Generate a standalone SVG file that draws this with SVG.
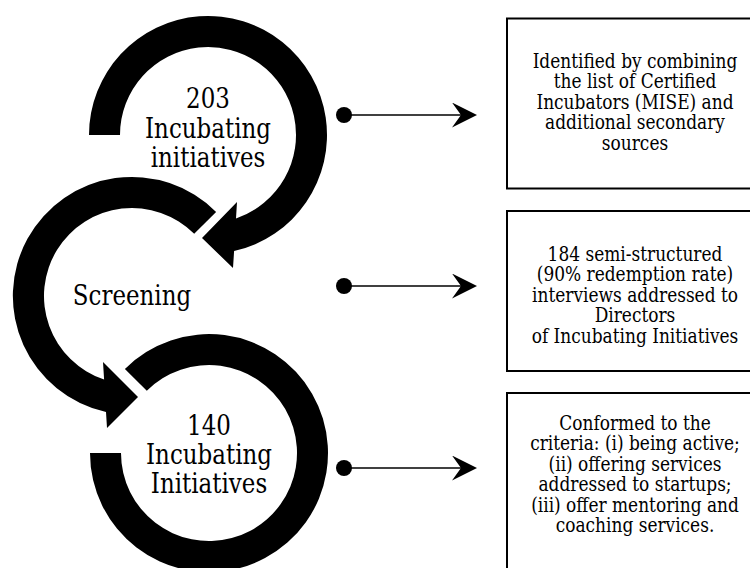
<svg xmlns="http://www.w3.org/2000/svg" width="750" height="568" viewBox="0 0 750 568">
  <defs>
    <marker id="head" viewBox="0 0 25 25" refX="18" refY="12.5" markerWidth="25" markerHeight="25" orient="auto" markerUnits="userSpaceOnUse">
      <path d="M0,0 L25,12.5 L0,25 L9,12.5 Z" fill="#000"/>
    </marker>
    <marker id="dot" viewBox="0 0 16 16" refX="8" refY="8" markerWidth="16" markerHeight="16" markerUnits="userSpaceOnUse">
      <circle cx="8" cy="8" r="8" fill="#000"/>
    </marker>
  </defs>
  <style>
    .ring { fill: #000; stroke: none; }
    .big { font-family: 'DejaVu Serif', serif; font-size: 28px; fill: #000; text-anchor: middle; }
    .box { fill: #fff; stroke: #000; stroke-width: 2; }
    .txt { font-family: 'DejaVu Serif', serif; font-size: 20px; fill: #000; text-anchor: middle; }
    .conn { stroke: #000; stroke-width: 1.5; fill: none; marker-start: url(#dot); marker-end: url(#head); }
  </style>
  <rect width="750" height="568" fill="#fff"/>

  <g id="stage-203">
    <path class="ring" d="M 89 135 A 119 119 0 1 1 234.1 251.1 L 233 268 L 202 238 L 237 202 L 236 218.4 A 88 88 0 1 0 120 135 Z"/>
    <text class="big" transform="translate(208 0) scale(0.82 1)" x="0" y="108.5">203<tspan x="0" y="138">Incubating</tspan><tspan x="0" y="167.5">initiatives</tspan></text>
  </g>

  <g id="stage-screening">
    <path class="ring" d="M 216.1 211.9 A 119 119 0 1 0 106 412.1 L 107 428 L 138 397 L 103 362 L 104.1 379.5 A 88 88 0 1 1 194.2 233.8 Z"/>
    <text class="big" transform="translate(132 0) scale(0.82 1)" x="0" y="305">Screening</text>
  </g>

  <g id="stage-140">
    <path class="ring" d="M 90 453 A 119 119 0 1 0 124.9 368.9 L 146.8 390.8 A 88 88 0 1 1 121 453 Z"/>
    <text class="big" transform="translate(209 0) scale(0.82 1)" x="0" y="435">140<tspan x="0" y="464">Incubating</tspan><tspan x="0" y="493">Initiatives</tspan></text>
  </g>

  <g id="connectors">
    <line class="conn" x1="344" y1="115" x2="470" y2="115"/>
    <line class="conn" x1="344" y1="286" x2="470" y2="286"/>
    <line class="conn" x1="344" y1="468" x2="470" y2="468"/>
  </g>

  <g id="box-sources">
    <rect class="box" x="507" y="18.5" width="260" height="170"/>
    <text class="txt" transform="translate(635 0) scale(0.85 1)" x="0" y="68">Identified by combining<tspan x="0" y="88.5">the list of Certified</tspan><tspan x="0" y="109">Incubators (MISE) and</tspan><tspan x="0" y="129.5">additional secondary</tspan><tspan x="0" y="150">sources</tspan></text>
  </g>

  <g id="box-interviews">
    <rect class="box" x="507" y="211" width="260" height="160"/>
    <text class="txt" transform="translate(635 0) scale(0.85 1)" x="0" y="261">184 semi-structured<tspan x="0" y="281.5">(90% redemption rate)</tspan><tspan x="0" y="302">interviews addressed to</tspan><tspan x="0" y="322.5">Directors</tspan><tspan x="0" y="343">of Incubating Initiatives</tspan></text>
  </g>

  <g id="box-criteria">
    <rect class="box" x="507" y="393" width="260" height="200"/>
    <text class="txt" transform="translate(635 0) scale(0.85 1)" x="0" y="430">Conformed to the<tspan x="0" y="450.5">criteria: (i) being active;</tspan><tspan x="0" y="471">(ii) offering services</tspan><tspan x="0" y="491.5">addressed to startups;</tspan><tspan x="0" y="512">(iii) offer mentoring and</tspan><tspan x="0" y="532.5">coaching services.</tspan></text>
  </g>
</svg>
